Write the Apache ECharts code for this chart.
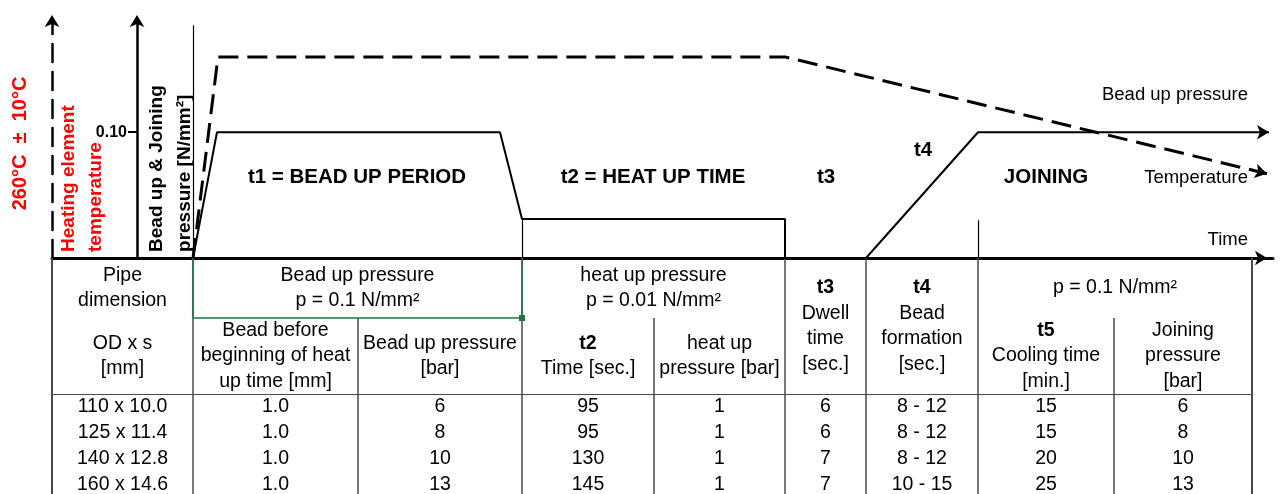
<!DOCTYPE html>
<html>
<head>
<meta charset="utf-8">
<script src="https://cdn.jsdelivr.net/npm/echarts@6.0.0/dist/echarts.min.js"></script>
<style>
html, body { margin: 0; padding: 0; background: #fff; }
#chart { width: 1283px; height: 494px; }
</style>
</head>
<body>
<div id="chart"></div>
<script>
(function () {
    "use strict";

    // time in arbitrary units, pressure in N/mm², temperature in °C
    var pressureTime = [0, 2.4, 30.7, 32.9, 59.2, 59.2, 67.3, 78.5, 107.6];
    var pressureValue = [0, 0.1, 0.1, 0.031, 0.031, 0, 0, 0.1, 0.1];
    var tempTime = [0, 2.5, 59.2, 107.4];
    var tempValue = [0, 260, 260, 109];

    // phase boundaries on the time axis, reused as table column edges
    var tableEdges = [-14.1, 0, 16.5, 32.9, 46.1, 59.2, 67.3, 78.5, 92.1, 105.9];
    var fullEdges = [0, 1, 3, 5, 6, 7, 9];
    var partEdges = [2, 4, 8];
    // table rows: header bands, then one unit per pipe size
    var headBand1 = 2.31;
    var headBand2 = 5.23;
    var tableEnd = 9.077;

    var pipeOD = ['110 x 10.0', '125 x 11.4', '140 x 12.8', '160 x 14.6'];
    var beadHeight = ['1.0', '1.0', '1.0', '1.0'];
    var beadPressure = [6, 8, 10, 13];
    var heatTime = [95, 95, 130, 145];
    var heatPressure = [1, 1, 1, 1];
    var dwellTime = [6, 6, 7, 7];
    var beadFormation = ['8 - 12', '8 - 12', '8 - 12', '10 - 15'];
    var coolingTime = [15, 15, 20, 25];
    var joinPressure = [6, 8, 10, 13];
    var tableColumns = [pipeOD, beadHeight, beadPressure, heatTime, heatPressure,
        dwellTime, beadFormation, coolingTime, joinPressure];

    var headerCells = [
        {text: 'Pipe\ndimension', c0: 0, c1: 0, band: 1},
        {text: 'Bead up pressure\np = 0.1 N/mm²', c0: 1, c1: 2, band: 1},
        {text: 'heat up pressure\np = 0.01 N/mm²', c0: 3, c1: 4, band: 1},
        {text: '{bold|t3}\nDwell\ntime\n[sec.]', c0: 5, c1: 5, band: 0},
        {text: '{bold|t4}\nBead\nformation\n[sec.]', c0: 6, c1: 6, band: 0},
        {text: 'p = 0.1 N/mm²', c0: 7, c1: 8, band: 1},
        {text: 'OD x s\n[mm]', c0: 0, c1: 0, band: 2},
        {text: 'Bead before\nbeginning of heat\nup time [mm]', c0: 1, c1: 1, band: 2},
        {text: 'Bead up pressure\n[bar]', c0: 2, c1: 2, band: 2},
        {text: '{bold|t2}\nTime [sec.]', c0: 3, c1: 3, band: 2},
        {text: 'heat up\npressure [bar]', c0: 4, c1: 4, band: 2},
        {text: '{bold|t5}\nCooling time\n[min.]', c0: 7, c1: 7, band: 2},
        {text: 'Joining\npressure\n[bar]', c0: 8, c1: 8, band: 2}
    ];

    var FONT = '"Liberation Sans", Arial, sans-serif';
    var LINE = '#4a4a4a';
    var GREEN = '#217346';

    function zip(xs, ys) {
        var out = [];
        for (var i = 0; i < xs.length; i++) {
            out.push([xs[i], ys[i]]);
        }
        return out;
    }

    // table rules
    var ruleData = [];
    fullEdges.forEach(function (i) {
        var x = tableEdges[i];
        var border = (i === 0 || i === tableEdges.length - 1);
        ruleData.push({coords: [[x, 0], [x, tableEnd]], lineStyle: {width: border ? 2 : 1.5}});
    });
    partEdges.forEach(function (i) {
        ruleData.push({coords: [[tableEdges[i], headBand1], [tableEdges[i], tableEnd]]});
    });
    ruleData.push({coords: [[tableEdges[0], headBand2], [tableEdges[9], headBand2]], lineStyle: {width: 1.2}});
    // selected cell border
    ruleData.push({coords: [[tableEdges[1], 0.03], [tableEdges[1], headBand1]], lineStyle: {color: GREEN, width: 1.5}});
    ruleData.push({coords: [[tableEdges[3], 0.03], [tableEdges[3], headBand1]], lineStyle: {color: GREEN, width: 1.5}});
    ruleData.push({coords: [[tableEdges[1], headBand1], [tableEdges[3], headBand1]], lineStyle: {color: GREEN, width: 1.5}});

    // table texts
    var cellData = [];
    headerCells.forEach(function (h) {
        var x = (tableEdges[h.c0] + tableEdges[h.c1 + 1]) / 2;
        var y;
        if (h.band === 1) y = headBand1 / 2;
        else if (h.band === 2) y = (headBand1 + headBand2) / 2;
        else y = headBand2 / 2;
        cellData.push({name: h.text, value: [x, y]});
    });
    tableColumns.forEach(function (col, c) {
        var x = (tableEdges[c] + tableEdges[c + 1]) / 2;
        col.forEach(function (v, r) {
            cellData.push({name: String(v), value: [x, headBand2 + 0.5 + r]});
        });
    });

    var boldLabel = {fontWeight: 'bold', fontSize: 20.5, color: '#000'};
    var sideLabel = {fontSize: 18.5, align: 'right', color: '#000'};
    var notes = [
        {name: 't1 = BEAD UP PERIOD', value: [16.4, 0.0644], label: boldLabel},
        {name: 't2 = HEAT UP TIME', value: [46.0, 0.0644], label: boldLabel},
        {name: 't3', value: [63.3, 0.0644], label: boldLabel},
        {name: 't4', value: [73.0, 0.0859], label: boldLabel},
        {name: 'JOINING', value: [85.3, 0.0644], label: boldLabel},
        {name: 'Bead up pressure', value: [105.5, 0.130], label: sideLabel},
        {name: 'Temperature', value: [105.5, 0.0636], label: sideLabel},
        {name: 'Time', value: [105.5, 0.0143], label: sideLabel},
        {name: 'Heating element\ntemperature', value: [-11.05, 0.0048],
            label: {rotate: 90, align: 'left', color: '#ff0000', fontWeight: 'bold', fontSize: 19, lineHeight: 27}},
        {name: 'Bead up & Joining\npressure [N/mm²]', value: [-2.2, 0.0048],
            label: {rotate: 90, align: 'left', color: '#000', fontWeight: 'bold', fontSize: 19, lineHeight: 28.5}}
    ];

    var textLabel = {
        show: true,
        position: 'inside',
        formatter: function (p) { return p.name; },
        color: '#000',
        textBorderWidth: 0,
        fontFamily: FONT,
        fontSize: 19.5,
        lineHeight: 25.5,
        align: 'center',
        verticalAlign: 'middle',
        rich: {
            bold: {fontWeight: 'bold', fontFamily: FONT, fontSize: 19.5, lineHeight: 25.5, color: '#000'}
        }
    };
    // scatter defaults to 0.8 opacity, which would also fade the labels
    var hidden = {color: 'rgba(0,0,0,0)', opacity: 1};
    var solid = {color: '#000', opacity: 1};

    var option = {
        animation: false,
        backgroundColor: '#fff',
        grid: [
            {left: 52, right: 10, top: 19, bottom: 236, outerBoundsMode: 'none'},
            {left: 52, right: 10, top: 258, bottom: 0, outerBoundsMode: 'none'}
        ],
        xAxis: [
            {
                gridIndex: 0, type: 'value', min: -14.1, max: 108,
                axisLine: {show: true, symbol: ['none', 'arrow'], symbolSize: [11, 12], symbolOffset: [0, -6],
                    lineStyle: {color: '#000', width: 3}},
                axisTick: {show: false}, axisLabel: {show: false}, splitLine: {show: false}
            },
            {gridIndex: 1, type: 'value', min: -14.1, max: 108, show: false}
        ],
        yAxis: [
            {
                gridIndex: 0, type: 'value', min: 0, max: 309, position: 'left',
                axisLine: {show: true, onZero: false, symbol: ['none', 'arrow'], symbolSize: [11, 12],
                    symbolOffset: [0, 4],
                    lineStyle: {color: '#000', width: 2.5, type: [18, 10]}},
                axisTick: {show: false}, axisLabel: {show: false}, splitLine: {show: false},
                name: '260°C  ±  10°C', nameLocation: 'middle', nameRotate: 90, nameGap: 22,
                nameTextStyle: {color: '#ff0000', fontWeight: 'bold', fontSize: 20, fontFamily: FONT,
                    padding: [0, 10, 0, 0]}
            },
            {
                gridIndex: 0, type: 'value', min: 0, max: 0.19, interval: 0.1,
                position: 'left', offset: -85,
                axisLine: {show: true, onZero: false, symbol: ['none', 'arrow'], symbolSize: [11, 12],
                    symbolOffset: [0, 4],
                    lineStyle: {color: '#000', width: 2.5}},
                axisTick: {show: true, length: 9, customValues: [0.1], lineStyle: {color: '#000', width: 2}},
                axisLabel: {
                    margin: 10, color: '#000', fontWeight: 'bold', fontSize: 16, fontFamily: FONT,
                    customValues: [0.1],
                    formatter: function (v) { return Math.abs(v - 0.1) < 1e-9 ? '0.10' : ''; }
                },
                splitLine: {show: false}
            },
            {gridIndex: 1, type: 'value', min: 0, max: tableEnd, inverse: true, show: false}
        ],
        series: [
            {
                name: 'Pressure', type: 'line', xAxisIndex: 0, yAxisIndex: 1,
                data: zip(pressureTime, pressureValue),
                symbol: 'none', lineStyle: {color: '#000', width: 2}, z: 3,
                markLine: {
                    silent: true, symbol: 'none', label: {show: false},
                    lineStyle: {color: '#000', width: 1.2, type: 'solid'},
                    data: [
                        [{coord: [0, 0]}, {coord: [0, 0.185]}],
                        [{coord: [32.9, 0]}, {coord: [32.9, 0.031]}],
                        [{coord: [78.5, 0]}, {coord: [78.5, 0.03]}]
                    ]
                }
            },
            {
                name: 'Temperature', type: 'line', xAxisIndex: 0, yAxisIndex: 0,
                data: zip(tempTime, tempValue),
                symbol: 'none', lineStyle: {color: '#000', width: 3, type: [20, 9]}, z: 3
            },
            {
                type: 'scatter', xAxisIndex: 0, yAxisIndex: 1, silent: true,
                symbol: 'arrow', symbolSize: [11, 12], symbolRotate: -90,
                itemStyle: solid,
                data: [[pressureTime[pressureTime.length - 1], pressureValue[pressureValue.length - 1]]]
            },
            {
                type: 'scatter', xAxisIndex: 0, yAxisIndex: 0, silent: true,
                symbol: 'arrow', symbolSize: [11, 12], symbolRotate: -103.6,
                itemStyle: solid,
                data: [[tempTime[tempTime.length - 1], tempValue[tempValue.length - 1]]]
            },
            {
                type: 'scatter', xAxisIndex: 0, yAxisIndex: 1, silent: true,
                symbolSize: 1, itemStyle: hidden, label: textLabel, data: notes, z: 5
            },
            {
                type: 'lines', coordinateSystem: 'cartesian2d', xAxisIndex: 1, yAxisIndex: 2,
                silent: true, lineStyle: {color: LINE, width: 1.5, opacity: 1},
                data: ruleData
            },
            {
                type: 'scatter', xAxisIndex: 1, yAxisIndex: 2, silent: true,
                symbol: 'rect', symbolSize: 6, itemStyle: {color: GREEN, opacity: 1},
                data: [[tableEdges[3], headBand1]]
            },
            {
                type: 'scatter', xAxisIndex: 1, yAxisIndex: 2, silent: true,
                symbolSize: 1, itemStyle: hidden, label: textLabel, data: cellData, z: 5
            }
        ]
    };

    var chart = echarts.init(document.getElementById('chart'));
    chart.setOption(option);
})();
</script>
</body>
</html>
